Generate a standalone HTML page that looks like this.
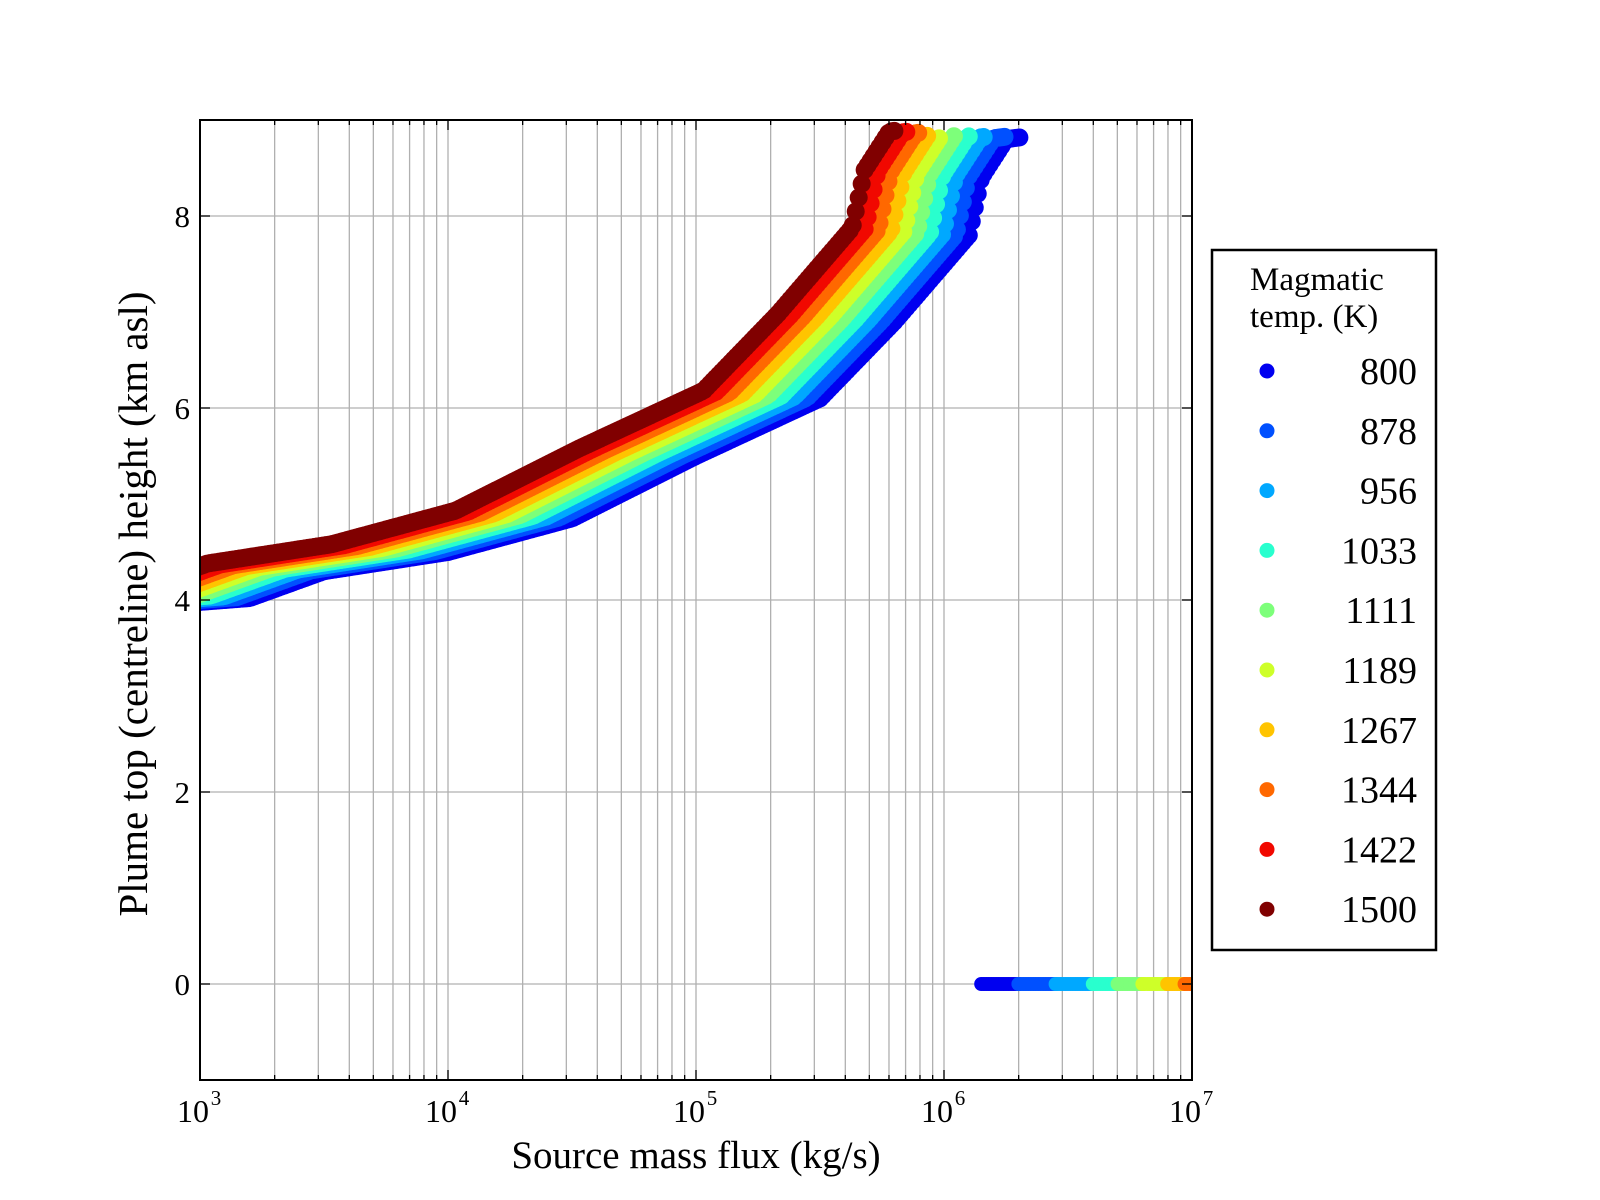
<!DOCTYPE html>
<html><head><meta charset="utf-8"><style>
html,body{margin:0;padding:0;background:#fff;}
svg{display:block;font-family:"Liberation Serif",serif;}
</style></head><body>
<svg id="s" width="1600" height="1200" xmlns="http://www.w3.org/2000/svg">
<rect width="1600" height="1200" fill="#fff"/>
<g id="grid"></g>
<g id="data" clip-path="url(#c)"></g>
<defs><clipPath id="c"><rect x="200" y="120" width="992" height="960"/></clipPath></defs>
<rect x="200" y="120" width="992" height="960" fill="none" stroke="#000" stroke-width="2"/>
<g id="ticks"></g>
<g font-size="31" text-anchor="end">
<text x="190" y="995">0</text><text x="190" y="803">2</text><text x="190" y="611">4</text><text x="190" y="419">6</text><text x="190" y="227">8</text>
</g>
<g font-size="32" text-anchor="middle" id="xl"></g>
<text x="696" y="1168" font-size="39" text-anchor="middle">Source mass flux (kg/s)</text>
<text transform="translate(147,604) rotate(-90)" font-size="41" text-anchor="middle">Plume top (centreline) height (km asl)</text>
<rect x="1212" y="250" width="224" height="700" fill="#fff" stroke="#000" stroke-width="2.5"/>
<text x="1250" y="290" font-size="33">Magmatic</text>
<text x="1250" y="327" font-size="33">temp. (K)</text>
<g id="leg" font-size="38" text-anchor="end"></g>
</svg>
<script>
var ns="http://www.w3.org/2000/svg";
function el(p,t,a,txt){var e=document.createElementNS(ns,t);for(var k in a)e.setAttribute(k,a[k]);if(txt)e.textContent=txt;p.appendChild(e);return e;}
var X=function(l){return 200+(l-3)*248;},Y=function(v){return 984-v*96;};
var g=document.getElementById('grid'),tk=document.getElementById('ticks');
for(var d=3;d<7;d++)for(var m=1;m<10;m++){var x=X(d+Math.log10(m));if(m>1||d>3){el(g,'line',{x1:x,x2:x,y1:120,y2:1080,stroke:'#b0b0b0','stroke-width':1.3});}
var L=m==1?10:5;el(tk,'line',{x1:x,x2:x,y1:1080,y2:1080-L,stroke:'#000','stroke-width':1.3});el(tk,'line',{x1:x,x2:x,y1:120,y2:120+L,stroke:'#000','stroke-width':1.3});}
[0,2,4,6,8].forEach(function(v){var y=Y(v);el(g,'line',{x1:200,x2:1192,y1:y,y2:y,stroke:'#b0b0b0','stroke-width':1.3});el(tk,'line',{x1:200,x2:210,y1:y,y2:y,stroke:'#000','stroke-width':1.3});el(tk,'line',{x1:1182,x2:1192,y1:y,y2:y,stroke:'#000','stroke-width':1.3});});
var xl=document.getElementById('xl');
for(var d=3;d<=7;d++){var t=el(xl,'text',{x:X(d)-7,y:1122});t.textContent='10';el(xl,'text',{x:X(d)+16,y:1105,'font-size':21},''+d);}
var cols=['#0000f0','#0050ff','#00a8ff','#29ffce','#7dff7a','#ceff29','#ffc400','#ff6800','#f10800','#800000'];
var temps=[800,878,956,1033,1111,1189,1267,1344,1422,1500];
var leg=document.getElementById('leg');
for(var i=0;i<10;i++){var y=371+i*59.8;el(leg,'circle',{cx:1267,cy:y,r:7.5,fill:cols[i]});el(leg,'text',{x:1417,y:y+13},''+temps[i]);}
var P=[[2.9,3.96],[3.0,3.98],[3.2,4.02],[3.5,4.3],[4,4.5],[4.5,4.85],[5,5.5],[5.5,6.1],[5.8,6.9],[6.0,7.5],[6.1,7.8],[6.15,8.4],[6.25,8.8],[6.4,8.85]];
function y8(l){for(var k=0;k<P.length-1;k++){if(l<=P[k+1][0]){var f=(l-P[k][0])/(P[k+1][0]-P[k][0]);return P[k][1]+f*(P[k+1][1]-P[k][1]);}}return P[P.length-1][1];}
var dg=document.getElementById('data');
var ends=[6.31,6.25,6.17,6.1,6.04,5.99,5.94,5.9,5.85,5.8];
for(var i=0;i<10;i++){var t=i/9,s=0.47*t;for(var l=2.98;l<=ends[i];l+=0.012){var v=y8(l+s)+0.08*t;el(dg,'circle',{cx:X(l),cy:Y(v),r:9,fill:cols[i]});}}
var seg=[[6.15,6.3,0],[6.3,6.45,1],[6.45,6.6,2],[6.6,6.7,3],[6.7,6.8,4],[6.8,6.9,5],[6.9,6.97,6],[6.97,7.05,7]];
seg.forEach(function(q){for(var l=q[0];l<q[1];l+=0.01)el(dg,'circle',{cx:X(l),cy:Y(0),r:7,fill:cols[q[2]]});});
</script>
</body></html>
